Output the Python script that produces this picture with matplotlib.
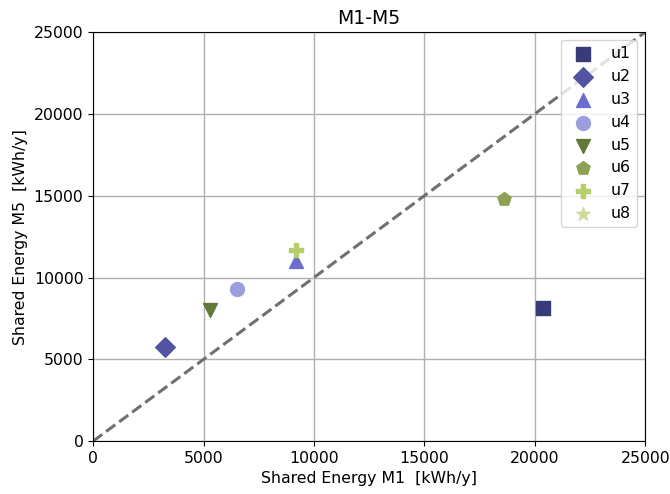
import numpy as np
import matplotlib.pyplot as plt

users = ["u1", "u2", "u3", "u4", "u5", "u6", "u7", "u8"]
shared_m1 = [20350, 3250, 9200, 6500, 5300, 18600, 9200, np.nan]
shared_m5 = [8150, 5750, 11000, 9300, 8000, 14800, 11700, np.nan]
markers = ["s", "D", "^", "o", "v", "p", "P", "*"]

colors = plt.cm.tab20b(np.arange(len(users)))

plt.rcParams["font.size"] = 11.3

fig, ax = plt.subplots(figsize=(6.7, 4.94), dpi=100)
fig.subplots_adjust(left=0.139, right=0.963, top=0.935, bottom=0.107)

for name, x, y, m, c in zip(users, shared_m1, shared_m5, markers, colors):
    ax.scatter([x], [y], marker=m, s=100, color=c, label=name, zorder=3)

lim = 25000
ax.plot([0, lim], [0, lim], linestyle="--", color="#707070", linewidth=2.2, zorder=2)

ax.set_xlim(0, lim)
ax.set_ylim(0, lim)
ax.set_xticks(np.arange(0, lim + 1, 5000))
ax.set_yticks(np.arange(0, lim + 1, 5000))
ax.grid(True, color="#b0b0b0", linewidth=1)
ax.set_axisbelow(True)

ax.set_title("M1-M5")
ax.set_xlabel("Shared Energy M1  [kWh/y]")
ax.set_ylabel("Shared Energy M5  [kWh/y]")
ax.legend(loc="upper right")

fig.savefig("out.png", dpi=100)
